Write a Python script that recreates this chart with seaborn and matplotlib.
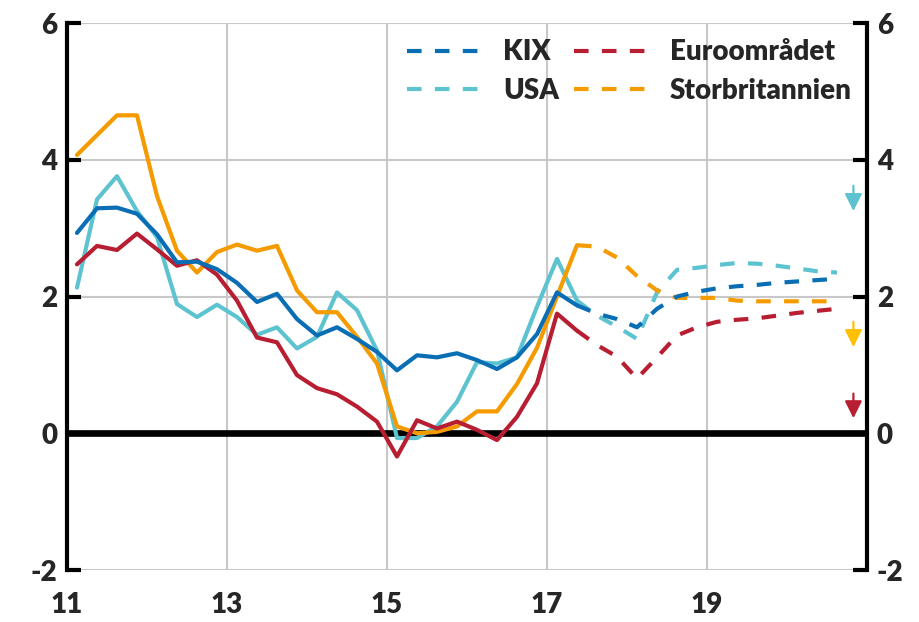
import matplotlib
matplotlib.use("Agg")
import matplotlib.pyplot as plt
from matplotlib.lines import Line2D
import pandas as pd
import seaborn as sns

# Quarterly data 2011Q1-2020Q3, outcome up to 2017Q2, forecast from 2017Q2
quarters = pd.period_range("2011Q1", "2020Q3", freq="Q")
n_outcome = 26

series = ["KIX", "USA", "Euroområdet", "Storbritannien"]
colors = ["#0A6EB4", "#5EC3D0", "#B81E32", "#F59B00"]

kix_utfall = [2.93, 3.29, 3.30, 3.21, 2.91, 2.50, 2.51, 2.40, 2.20, 1.92, 2.04, 1.67, 1.43,
              1.55, 1.38, 1.19, 0.92, 1.14, 1.11, 1.17, 1.07, 0.94, 1.11, 1.45, 2.06, 1.87]
kix_prognos = [1.87, 1.75, 1.67, 1.55, 1.82, 2.00, 2.07, 2.12, 2.15, 2.17, 2.20, 2.22, 2.24, 2.26]

usa_utfall = [2.13, 3.42, 3.76, 3.25, 2.87, 1.89, 1.70, 1.88, 1.70, 1.44, 1.55, 1.24, 1.41,
              2.06, 1.80, 1.21, -0.07, -0.07, 0.10, 0.46, 1.04, 1.02, 1.11, 1.85, 2.55, 1.94]
usa_prognos = [1.94, 1.72, 1.56, 1.38, 2.06, 2.39, 2.42, 2.46, 2.49, 2.48, 2.45, 2.41, 2.37, 2.35]

euro_utfall = [2.47, 2.74, 2.68, 2.92, 2.69, 2.45, 2.53, 2.32, 1.94, 1.40, 1.33, 0.85, 0.66,
               0.57, 0.39, 0.17, -0.34, 0.19, 0.07, 0.17, 0.05, -0.10, 0.24, 0.73, 1.75, 1.50]
euro_prognos = [1.50, 1.29, 1.12, 0.80, 1.11, 1.43, 1.55, 1.63, 1.66, 1.68, 1.72, 1.76, 1.79, 1.82]

uk_utfall = [4.07, 4.36, 4.65, 4.65, 3.47, 2.67, 2.35, 2.65, 2.76, 2.67, 2.74, 2.09, 1.77,
             1.77, 1.41, 1.02, 0.10, 0.00, 0.02, 0.10, 0.32, 0.32, 0.72, 1.25, 2.00, 2.75]
uk_prognos = [2.75, 2.73, 2.57, 2.30, 2.09, 1.98, 1.98, 1.98, 1.94, 1.93, 1.93, 1.93, 1.93, 1.93]

# Down arrows at the right edge (start, end)
arrow_x = 2020.83
arrows = {"USA": (3.62, 3.25), "Storbritannien": (1.63, 1.26), "Euroområdet": (0.58, 0.22)}
arrow_colors = {"USA": "#5EC3D0", "Storbritannien": "#FFC000", "Euroområdet": "#B81E32"}

yticks = [-2, 0, 2, 4, 6]
xticks = [2011, 2013, 2015, 2017, 2019]
xticklabels = ["11", "13", "15", "17", "19"]

# Long table
t = quarters.year + (quarters.quarter - 0.5) / 4
rows = []
data = {"KIX": (kix_utfall, kix_prognos), "USA": (usa_utfall, usa_prognos),
        "Euroområdet": (euro_utfall, euro_prognos), "Storbritannien": (uk_utfall, uk_prognos)}
for name, (utfall, prognos) in data.items():
    for x, v in zip(t[:n_outcome], utfall):
        rows.append({"t": x, "value": v, "serie": name, "del": "utfall"})
    for x, v in zip(t[n_outcome - 1:], prognos):
        rows.append({"t": x, "value": v, "serie": name, "del": "prognos"})
df = pd.DataFrame(rows)

sns.set_theme(style="white")
plt.rcParams["font.family"] = ["Lato", "DejaVu Sans"]
plt.rcParams["font.weight"] = "heavy"
plt.rcParams["axes.unicode_minus"] = False

fig, ax = plt.subplots(figsize=(9.2, 6.22), dpi=100)
fig.subplots_adjust(left=0.0728, right=0.9424, top=0.963, bottom=0.0836)

ax.axhline(0, color="black", lw=4.8, zorder=1.5)

dash = (3.5, 3.2)
sns.lineplot(data=df, x="t", y="value", hue="serie", style="del",
             hue_order=["USA", "Storbritannien", "Euroområdet", "KIX"],
             palette=dict(zip(series, colors)),
             dashes={"utfall": "", "prognos": dash},
             linewidth=3.0, estimator=None, legend=False, ax=ax, zorder=3)

for name, (y0, y1) in arrows.items():
    ax.annotate("", xy=(arrow_x, y1), xytext=(arrow_x, y0),
                arrowprops=dict(arrowstyle="-|>", color=arrow_colors[name],
                                lw=1.6, mutation_scale=26, shrinkA=0, shrinkB=0))

ax.set_xlim(2011, 2021)
ax.set_ylim(-2, 6)
ax.set_yticks(yticks)
ax.set_xticks(xticks)
ax.set_xticklabels(xticklabels)
ax.set_xlabel("")
ax.set_ylabel("")
ax.grid(True, color="#C8C8C8", lw=1.5)
ax.set_axisbelow(True)

for side in ["top", "bottom"]:
    ax.spines[side].set_visible(False)
for side in ["left", "right"]:
    ax.spines[side].set_visible(True)
    ax.spines[side].set_color("black")
    ax.spines[side].set_linewidth(3)

ax.tick_params(axis="y", left=True, right=True, labelleft=True, labelright=True,
               direction="in", length=10, width=3, color="black", pad=7, labelsize=20)
ax.tick_params(axis="x", length=0, pad=16, labelsize=20)

handles = [Line2D([], [], color=c, lw=3.0, dashes=dash) for c in colors]
ax.legend(handles, series, ncol=2, loc="upper left", bbox_to_anchor=(0.425, 0.97),
          frameon=False, fontsize=20, handlelength=3.0, handletextpad=0.45,
          columnspacing=0.55, labelspacing=0.45, borderaxespad=0, borderpad=0)

plt.savefig("out.png", dpi=100)
